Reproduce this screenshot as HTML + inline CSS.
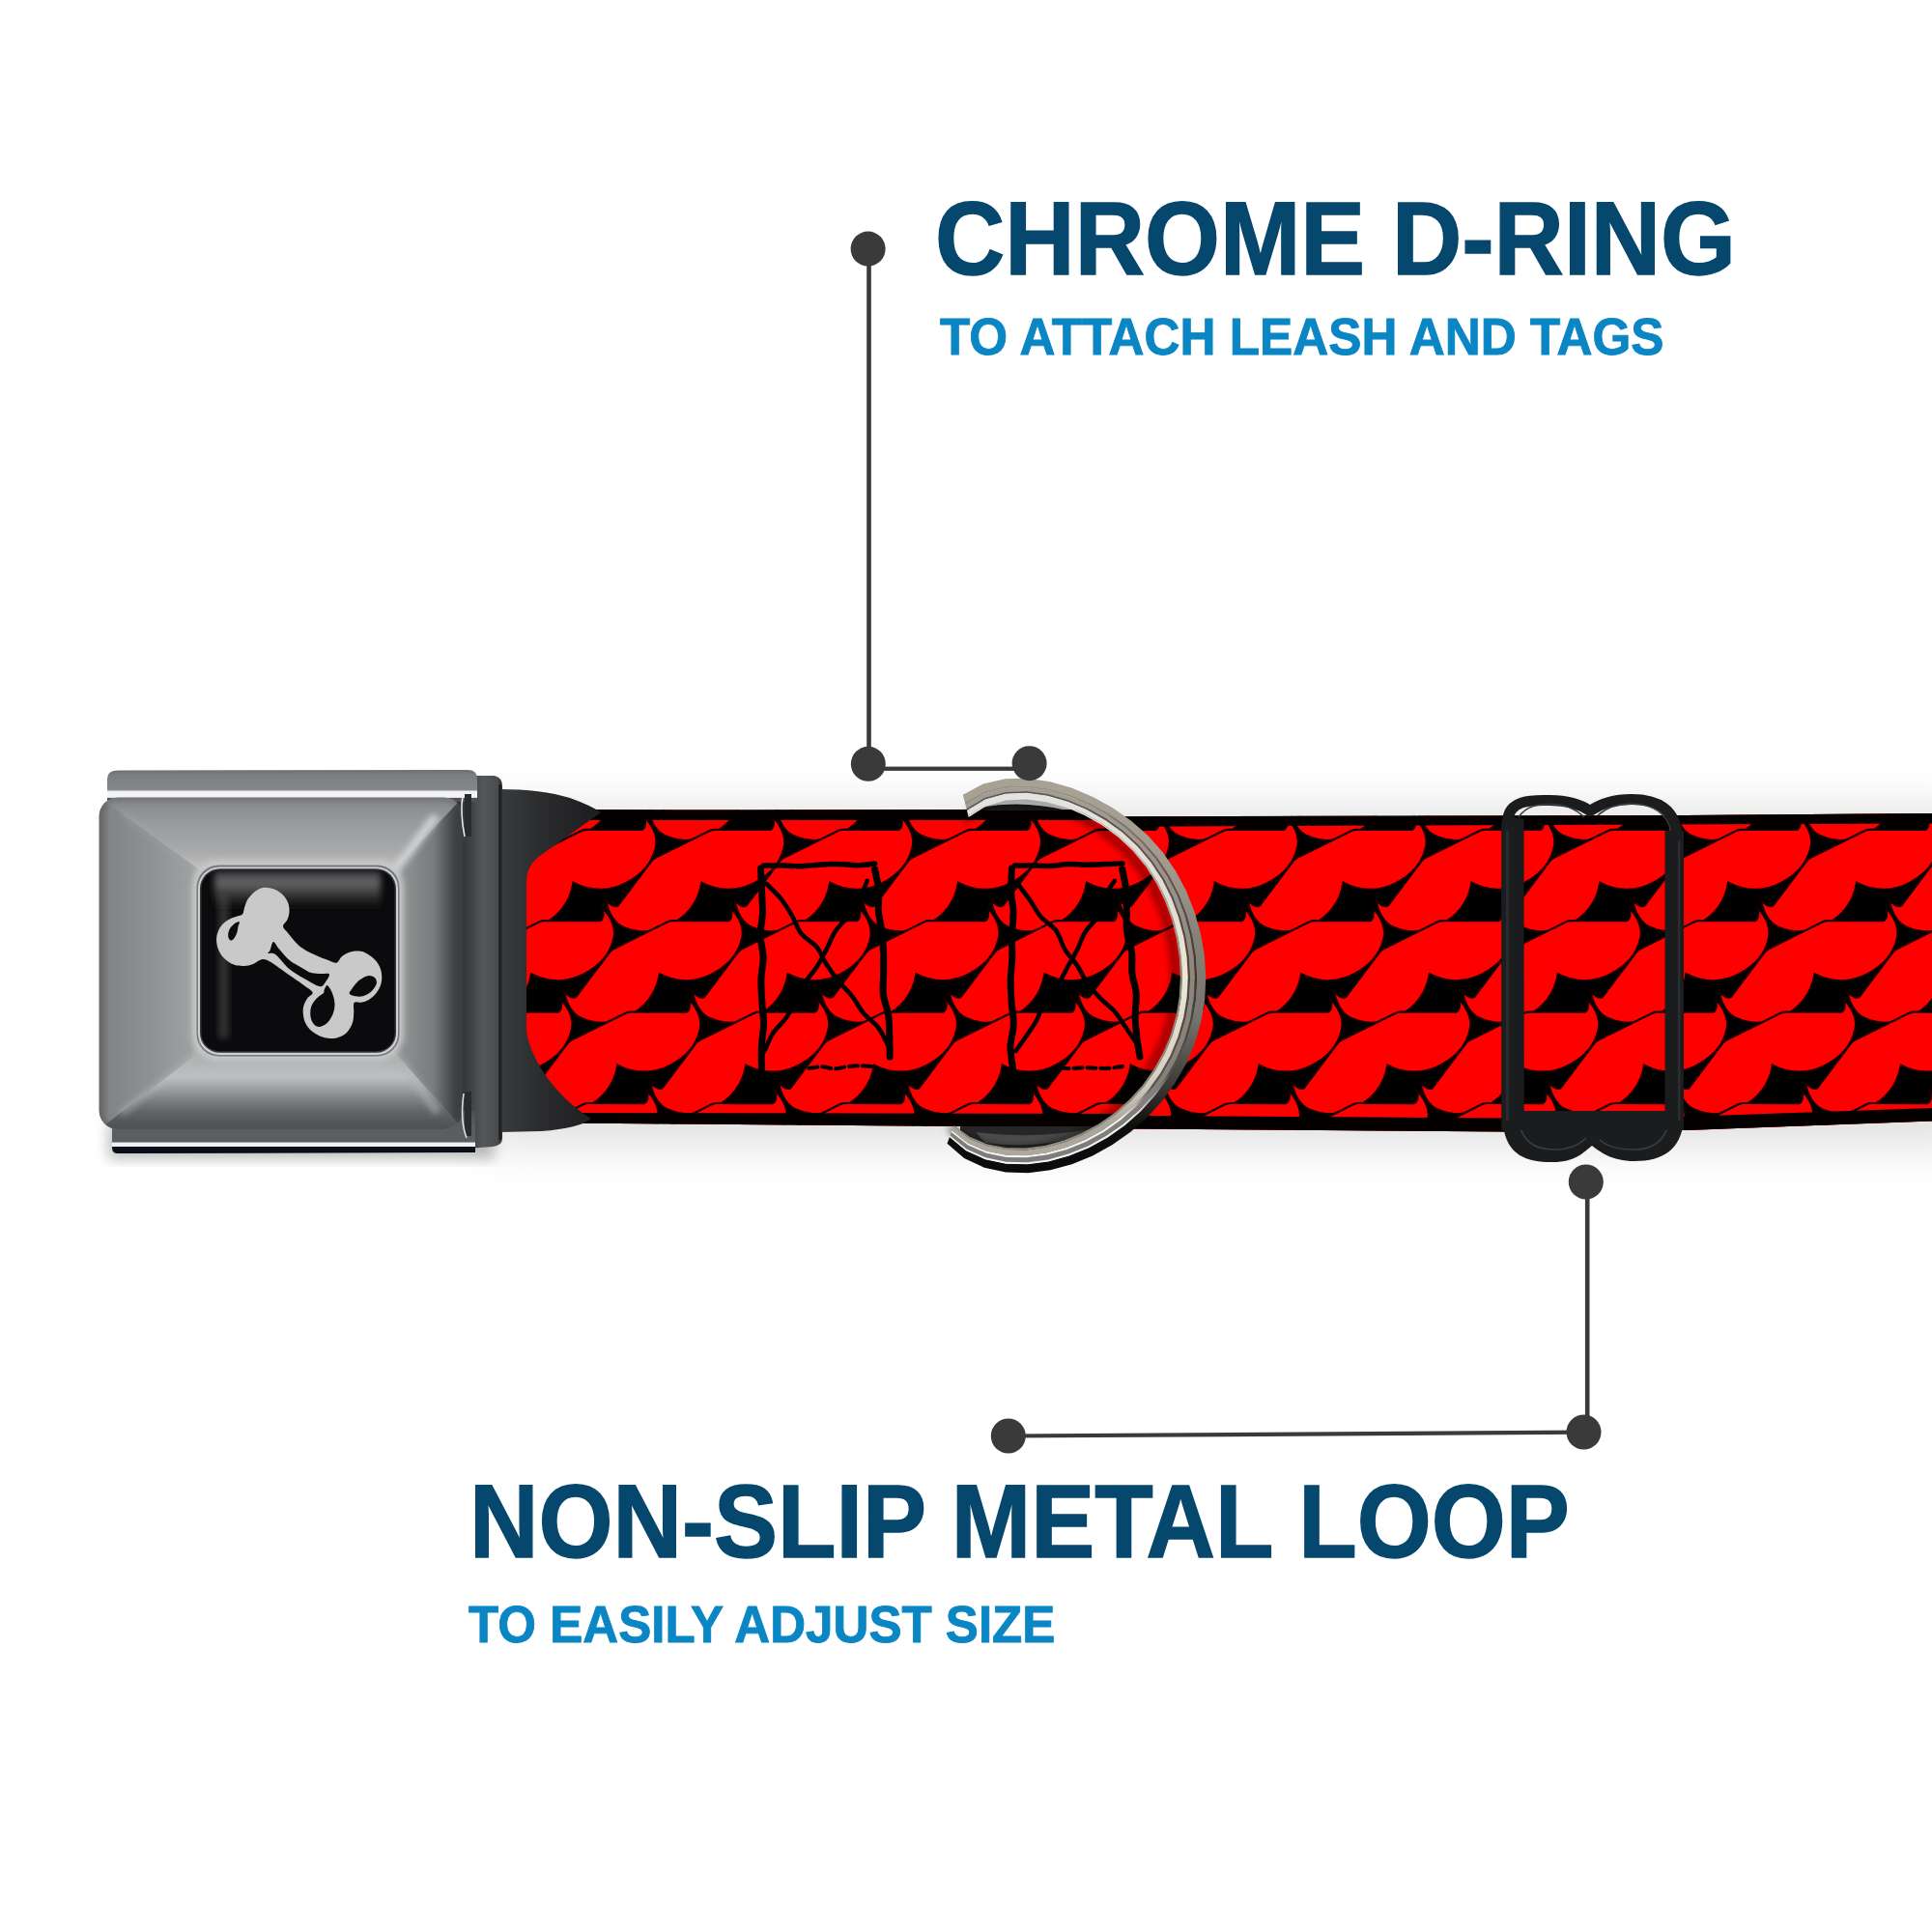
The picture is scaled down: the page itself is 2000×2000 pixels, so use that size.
<!DOCTYPE html>
<html><head><meta charset="utf-8"><title>Dog collar features</title>
<style>
html,body{margin:0;padding:0;background:#fff;}
body{width:2000px;height:2000px;overflow:hidden;position:relative;font-family:"Liberation Sans",sans-serif;}
svg{position:absolute;left:0;top:0;}
.t{position:absolute;white-space:nowrap;font-weight:bold;line-height:1;transform-origin:0 0;}
.h{color:#06476e;-webkit-text-stroke:1.5px #06476e;}
.s{color:#0a86c4;-webkit-text-stroke:0.9px #0a86c4;}
</style></head><body>

<svg width="2000" height="2000" viewBox="0 0 2000 2000">
<defs>
<path id="m" d="M0,-44.5 L31,-44.5 Q34,-44.5 37,-43 L88,-17.5 Q93.5,-17 96.5,-28 C101,-14 99,-1 92,6 C84,16 70,24 49,24.5 C30,25 12,17 0,0 C-12,17 -30,25 -49,24.5 C-70,24 -84,16 -92,6 C-99,-1 -101,-14 -96.5,-28 Q-93.5,-17 -88,-17.5 L-37,-43 Q-34,-44.5 -31,-44.5 Z" transform="rotate(-26.5)"/>

<filter id="blur20" x="-10%" y="-60%" width="120%" height="220%"><feGaussianBlur stdDeviation="24"/></filter>
<filter id="blur8" x="-20%" y="-20%" width="140%" height="140%"><feGaussianBlur stdDeviation="7"/></filter>
<filter id="blur3" x="-20%" y="-20%" width="140%" height="140%"><feGaussianBlur stdDeviation="3"/></filter>
<filter id="blur1"><feGaussianBlur stdDeviation="1.2"/></filter>
<clipPath id="cL"><path d="M540,900 L540,860 L600,838 L700,838.5 L1000,838 L1260,838 L1260,1167 L1000,1166 L640,1163 L560,1163 L540,1130 Z"/></clipPath>
<clipPath id="cR"><path d="M1100,845.5 L1745,844 L2000,842 L2000,1160.5 L1745,1170 L1560,1171.5 L1100,1168 Z"/></clipPath>

</defs>
<rect x="500" y="836" width="1540" height="350" fill="#000" opacity="0.12" filter="url(#blur20)"/>
<clipPath id="cD"><path d="M500,1230 L984.0,1174.3 C987.9,1177.1 998.7,1187.0 1007.0,1191.2 C1015.3,1195.4 1024.7,1198.1 1033.9,1199.8 C1043.1,1201.5 1052.8,1201.9 1062.2,1201.4 C1071.7,1201.0 1081.3,1199.5 1090.5,1197.3 C1099.7,1195.1 1108.9,1192.0 1117.6,1188.3 C1126.4,1184.6 1134.9,1180.2 1143.0,1175.2 C1151.1,1170.3 1158.9,1164.7 1166.2,1158.6 C1173.5,1152.5 1180.4,1145.9 1186.7,1138.8 C1193.0,1131.8 1198.9,1124.2 1204.1,1116.3 C1209.3,1108.3 1214.0,1099.9 1218.0,1091.3 C1221.9,1082.7 1225.3,1073.7 1227.9,1064.6 C1230.5,1055.5 1232.4,1046.1 1233.6,1036.7 C1234.8,1027.3 1235.2,1017.7 1235.0,1008.2 C1234.8,998.7 1233.9,989.2 1232.4,979.8 C1230.9,970.5 1228.8,961.1 1226.0,952.0 C1223.3,942.9 1220.0,933.8 1216.0,925.2 C1212.0,916.5 1207.4,907.9 1202.1,899.9 C1196.8,891.8 1190.8,884.1 1184.3,876.9 C1177.8,869.8 1170.5,863.1 1163.0,857.1 C1155.4,851.1 1147.2,845.6 1138.8,840.7 C1130.3,835.8 1121.4,831.5 1112.4,827.9 C1103.3,824.4 1093.8,821.3 1084.2,819.4 C1074.6,817.4 1064.7,816.1 1055.0,816.3 C1045.2,816.5 1035.1,817.6 1025.9,820.6 C1016.8,823.6 1004.2,832.1 999.8,834.4 L500,790Z"/></clipPath><g clip-path="url(#cR)"><rect x="1100" y="830" width="900" height="350" fill="#000"/><g fill="#fe0000" stroke="#140000" stroke-width="2.2"><use href="#m" x="1035.5" y="819.4"/><use href="#m" x="1168.4" y="819.4"/><use href="#m" x="1301.2" y="819.4"/><use href="#m" x="1434.1" y="819.4"/><use href="#m" x="1566.9" y="819.4"/><use href="#m" x="1699.8" y="819.4"/><use href="#m" x="1832.6" y="819.4"/><use href="#m" x="1965.5" y="819.4"/><use href="#m" x="2098.3" y="819.4"/><use href="#m" x="1124.9" y="913.8"/><use href="#m" x="1257.8" y="913.8"/><use href="#m" x="1390.6" y="913.8"/><use href="#m" x="1523.4" y="913.8"/><use href="#m" x="1656.3" y="913.8"/><use href="#m" x="1789.1" y="913.8"/><use href="#m" x="1922.0" y="913.8"/><use href="#m" x="2054.8" y="913.8"/><use href="#m" x="1081.4" y="1008.2"/><use href="#m" x="1214.2" y="1008.2"/><use href="#m" x="1347.1" y="1008.2"/><use href="#m" x="1479.9" y="1008.2"/><use href="#m" x="1612.8" y="1008.2"/><use href="#m" x="1745.6" y="1008.2"/><use href="#m" x="1878.5" y="1008.2"/><use href="#m" x="2011.3" y="1008.2"/><use href="#m" x="1037.9" y="1102.6"/><use href="#m" x="1170.8" y="1102.6"/><use href="#m" x="1303.6" y="1102.6"/><use href="#m" x="1436.4" y="1102.6"/><use href="#m" x="1569.3" y="1102.6"/><use href="#m" x="1702.1" y="1102.6"/><use href="#m" x="1835.0" y="1102.6"/><use href="#m" x="1967.8" y="1102.6"/><use href="#m" x="2100.7" y="1102.6"/><use href="#m" x="1127.2" y="1197.0"/><use href="#m" x="1260.1" y="1197.0"/><use href="#m" x="1392.9" y="1197.0"/><use href="#m" x="1525.8" y="1197.0"/><use href="#m" x="1658.6" y="1197.0"/><use href="#m" x="1791.5" y="1197.0"/><use href="#m" x="1924.3" y="1197.0"/><use href="#m" x="2057.2" y="1197.0"/></g><path d="M1100,845 L2000,841 L2000,852.5 L1100,856Z" fill="#050000"/><path d="M1100,1169 L1560,1172 L1745,1170.5 L2000,1161 L2000,1147 L1745,1156 L1560,1157.5 L1100,1154.5Z" fill="#050000"/></g><g clip-path="url(#cD)"><g clip-path="url(#cL)"><rect x="530" y="830" width="720" height="350" fill="#000"/><g fill="#fe0000" stroke="#140000" stroke-width="2.2"><use href="#m" x="504.1" y="819.4"/><use href="#m" x="637.0" y="819.4"/><use href="#m" x="769.8" y="819.4"/><use href="#m" x="902.7" y="819.4"/><use href="#m" x="1035.5" y="819.4"/><use href="#m" x="1168.4" y="819.4"/><use href="#m" x="1301.2" y="819.4"/><use href="#m" x="460.6" y="913.8"/><use href="#m" x="593.5" y="913.8"/><use href="#m" x="726.3" y="913.8"/><use href="#m" x="859.2" y="913.8"/><use href="#m" x="992.0" y="913.8"/><use href="#m" x="1124.9" y="913.8"/><use href="#m" x="1257.8" y="913.8"/><use href="#m" x="550.0" y="1008.2"/><use href="#m" x="682.8" y="1008.2"/><use href="#m" x="815.7" y="1008.2"/><use href="#m" x="948.5" y="1008.2"/><use href="#m" x="1081.4" y="1008.2"/><use href="#m" x="1214.2" y="1008.2"/><use href="#m" x="1347.1" y="1008.2"/><use href="#m" x="506.5" y="1102.6"/><use href="#m" x="639.3" y="1102.6"/><use href="#m" x="772.2" y="1102.6"/><use href="#m" x="905.0" y="1102.6"/><use href="#m" x="1037.9" y="1102.6"/><use href="#m" x="1170.8" y="1102.6"/><use href="#m" x="1303.6" y="1102.6"/><use href="#m" x="463.0" y="1197.0"/><use href="#m" x="595.8" y="1197.0"/><use href="#m" x="728.7" y="1197.0"/><use href="#m" x="861.5" y="1197.0"/><use href="#m" x="994.4" y="1197.0"/><use href="#m" x="1127.2" y="1197.0"/><use href="#m" x="1260.1" y="1197.0"/></g><path d="M540,838 L1260,838 L1260,849 L540,849Z" fill="#050000"/><path d="M540,1167 L1260,1167 L1260,1153 L540,1152Z" fill="#050000"/><g fill="none" stroke="#000" stroke-linecap="round"><path d="M787.5,899.0 C787.7,902.8 788.2,914.3 788.5,922.0 C788.8,929.7 789.7,937.3 789.5,945.0 C789.2,952.7 787.0,960.3 787.1,968.0 C787.2,975.7 789.9,983.3 790.1,991.0 C790.2,998.7 788.1,1006.3 787.9,1014.0 C787.7,1021.7 788.4,1029.3 788.8,1037.0 C789.3,1044.7 790.6,1052.3 790.5,1060.0 C790.4,1067.7 788.7,1075.3 788.4,1083.0 C788.0,1090.7 788.5,1102.2 788.5,1106.0" stroke-width="7"/><path d="M905.6,900.0 C906.3,903.6 909.0,914.2 909.6,921.4 C910.3,928.6 908.8,935.9 909.4,943.1 C909.9,950.3 912.1,957.3 912.9,964.5 C913.8,971.7 914.3,978.8 914.6,986.1 C914.9,993.3 914.7,1000.5 914.6,1007.7 C914.6,1015.0 913.5,1022.3 914.4,1029.5 C915.2,1036.6 918.5,1043.6 919.6,1050.7 C920.7,1057.9 920.6,1065.1 920.8,1072.3 C921.1,1079.5 921.1,1090.4 921.2,1094.0" stroke-width="7"/><path d="M790.5,896.0 C793.7,896.0 803.3,895.9 809.7,896.0 C816.1,896.2 822.5,896.8 828.9,896.7 C835.3,896.5 841.7,895.6 848.1,895.2 C854.4,894.8 860.8,894.3 867.2,894.4 C873.6,894.4 880.0,895.8 886.4,895.8 C892.8,895.7 902.4,894.3 905.6,894.0" stroke-width="5.5" stroke-dasharray="14 3"/><path d="M837.5,1106.0 C839.7,1105.7 846.2,1104.2 850.6,1104.2 C855.0,1104.3 859.4,1106.3 863.8,1106.3 C868.2,1106.3 872.5,1104.7 876.9,1104.2 C881.3,1103.7 885.6,1103.4 890.0,1103.3 C894.4,1103.3 901.0,1103.9 903.2,1104.0" stroke-width="4" stroke-dasharray="9 5"/><path d="M793.5,915.0 C796.0,917.5 803.8,924.7 808.2,930.1 C812.6,935.5 816.2,941.5 819.7,947.6 C823.3,953.7 825.1,961.0 829.4,966.4 C833.8,971.9 841.2,975.1 845.6,980.5 C850.0,985.9 852.1,993.0 855.9,998.8 C859.7,1004.7 863.8,1010.4 868.1,1015.8 C872.5,1021.2 877.9,1025.9 882.2,1031.4 C886.5,1036.9 889.3,1043.5 893.8,1048.8 C898.3,1054.2 904.8,1057.9 909.1,1063.5 C913.3,1069.0 917.5,1078.9 919.2,1082.0" stroke-width="4.6"/><path d="M897.6,912.0 C896.3,915.2 892.9,925.1 889.6,931.2 C886.4,937.2 882.3,942.8 878.1,948.3 C874.0,953.8 868.4,958.4 864.7,964.1 C860.9,969.9 858.8,976.6 855.6,982.7 C852.4,988.7 849.4,994.9 845.7,1000.7 C842.0,1006.4 837.1,1011.5 833.4,1017.3 C829.8,1023.1 826.9,1029.3 823.6,1035.4 C820.4,1041.4 817.8,1047.9 813.9,1053.5 C810.0,1059.2 804.1,1063.6 800.3,1069.3 C796.6,1075.1 793.0,1084.9 791.5,1088.0" stroke-width="4.6"/><path d="M1047.5,899.0 C1047.4,902.8 1046.4,914.3 1046.6,922.0 C1046.9,929.7 1048.9,937.3 1049.0,945.0 C1049.1,952.7 1047.7,960.3 1047.5,968.0 C1047.3,975.7 1048.0,983.3 1047.8,991.0 C1047.6,998.7 1046.3,1006.3 1046.2,1014.0 C1046.0,1021.7 1046.5,1029.3 1047.0,1037.0 C1047.5,1044.7 1049.5,1052.3 1049.3,1060.0 C1049.2,1067.7 1046.1,1075.3 1046.0,1083.0 C1045.8,1090.7 1048.1,1102.2 1048.5,1106.0" stroke-width="7"/><path d="M1161.8,900.0 C1162.5,903.6 1165.0,914.2 1165.7,921.4 C1166.5,928.6 1166.1,935.8 1166.3,943.1 C1166.4,950.3 1165.7,957.6 1166.6,964.8 C1167.5,972.0 1170.7,978.9 1171.6,986.1 C1172.5,993.2 1171.2,1000.6 1172.0,1007.8 C1172.7,1014.9 1175.7,1021.9 1176.2,1029.1 C1176.8,1036.3 1175.0,1043.7 1175.1,1051.0 C1175.2,1058.2 1175.8,1065.4 1176.7,1072.6 C1177.5,1079.7 1179.4,1090.4 1180.0,1094.0" stroke-width="7"/><path d="M1050.5,896.0 C1053.6,896.0 1062.9,895.8 1069.1,895.9 C1075.2,896.0 1081.4,896.7 1087.6,896.5 C1093.8,896.2 1100.0,894.6 1106.1,894.4 C1112.3,894.2 1118.5,895.2 1124.7,895.3 C1130.9,895.3 1137.1,894.8 1143.3,894.6 C1149.4,894.4 1158.7,894.1 1161.8,894.0" stroke-width="5.5" stroke-dasharray="14 3"/><path d="M1097.5,1106.0 C1099.7,1106.0 1106.1,1106.0 1110.4,1105.8 C1114.7,1105.7 1119.0,1105.1 1123.3,1105.1 C1127.6,1105.1 1131.9,1105.7 1136.2,1105.8 C1140.5,1105.9 1144.8,1106.0 1149.1,1105.7 C1153.4,1105.4 1159.9,1104.3 1162.0,1104.0" stroke-width="4" stroke-dasharray="9 5"/><path d="M1053.5,915.0 C1055.6,917.8 1062.1,925.9 1066.1,931.6 C1070.1,937.3 1072.9,943.8 1077.5,949.1 C1082.0,954.4 1089.2,957.7 1093.3,963.3 C1097.4,968.9 1098.6,976.7 1102.2,982.6 C1105.8,988.6 1111.0,993.3 1114.9,999.1 C1118.8,1004.9 1121.4,1011.6 1125.4,1017.3 C1129.4,1023.0 1134.0,1028.2 1138.8,1033.2 C1143.7,1038.3 1149.8,1042.4 1154.3,1047.7 C1158.9,1053.0 1162.2,1059.1 1166.2,1064.8 C1170.1,1070.5 1176.0,1079.1 1178.0,1082.0" stroke-width="4.6"/><path d="M1153.8,912.0 C1151.9,914.8 1145.5,922.9 1142.5,929.0 C1139.6,935.2 1139.4,942.9 1136.2,948.9 C1133.0,954.9 1126.9,959.2 1123.3,964.9 C1119.8,970.7 1118.0,977.5 1114.9,983.6 C1111.8,989.6 1108.3,995.4 1105.0,1001.3 C1101.7,1007.3 1099.2,1013.7 1095.1,1019.2 C1091.0,1024.6 1084.0,1028.4 1080.6,1034.3 C1077.1,1040.1 1077.1,1047.9 1074.2,1054.1 C1071.3,1060.3 1067.0,1065.6 1063.3,1071.3 C1059.5,1076.9 1053.5,1085.2 1051.5,1088.0" stroke-width="4.6"/></g></g></g><g clip-path="url(#cD)"><path d="M1003,839 Q1050,826 1105,839Z" fill="#1a1a1a"/><path d="M994,1166 L1150,1166 L1150,1200 L994,1200Z" fill="#262626"/><path d="M1010,1172 Q1070,1180 1135,1168 L1120,1176 Q1070,1190 1020,1183Z" fill="#4a4a4a"/></g>
<defs><linearGradient id="bk_back" x1="0" y1="0" x2="0" y2="1"><stop offset="0" stop-color="#6c6f72"/><stop offset="0.15" stop-color="#7b7e80"/><stop offset="0.62" stop-color="#85888a"/><stop offset="0.68" stop-color="#f2f2f2"/><stop offset="0.86" stop-color="#f4f4f4"/><stop offset="0.89" stop-color="#4f5254"/><stop offset="1" stop-color="#4f5254"/></linearGradient><linearGradient id="bk_top" x1="0" y1="0" x2="0" y2="1"><stop offset="0" stop-color="#838587"/><stop offset="0.3" stop-color="#97999a"/><stop offset="0.7" stop-color="#a9aaab"/><stop offset="0.9" stop-color="#c2c2c1"/><stop offset="1" stop-color="#d2d2d0"/></linearGradient><linearGradient id="bk_left" x1="0" y1="0" x2="1" y2="0"><stop offset="0" stop-color="#6a6c6e"/><stop offset="0.1" stop-color="#828485"/><stop offset="0.5" stop-color="#8f9192"/><stop offset="0.85" stop-color="#9fa0a1"/><stop offset="0.95" stop-color="#b8b8b8"/><stop offset="1" stop-color="#c8c8c8"/></linearGradient><linearGradient id="bk_right" x1="0" y1="0" x2="1" y2="0"><stop offset="0" stop-color="#959697"/><stop offset="0.3" stop-color="#8a8b8c"/><stop offset="0.6" stop-color="#7a7b7c"/><stop offset="0.75" stop-color="#5c5e60"/><stop offset="0.9" stop-color="#3f4143"/><stop offset="1" stop-color="#303234"/></linearGradient><linearGradient id="bk_bot" x1="0" y1="0" x2="0" y2="1"><stop offset="0" stop-color="#a5a7a8"/><stop offset="0.37" stop-color="#bec0c1"/><stop offset="0.5" stop-color="#a0a2a4"/><stop offset="0.65" stop-color="#7c7f81"/><stop offset="0.8" stop-color="#606366"/><stop offset="1" stop-color="#4d5053"/></linearGradient><linearGradient id="bk_base" x1="0" y1="0" x2="0" y2="1"><stop offset="0" stop-color="#4d5053"/><stop offset="0.42" stop-color="#5b5e61"/><stop offset="0.73" stop-color="#5b5e61"/><stop offset="0.75" stop-color="#f2f2f2"/><stop offset="0.83" stop-color="#f2f2f2"/><stop offset="0.85" stop-color="#0d1424"/><stop offset="1" stop-color="#06080c"/></linearGradient><linearGradient id="bk_side" x1="0" y1="0" x2="1" y2="0"><stop offset="0" stop-color="#2b2d30"/><stop offset="0.3" stop-color="#3b3d40"/><stop offset="0.6" stop-color="#55585b"/><stop offset="0.9" stop-color="#4a4c4f"/><stop offset="1" stop-color="#2a2b2d"/></linearGradient><linearGradient id="bk_tongue" x1="0" y1="0" x2="1" y2="0"><stop offset="0" stop-color="#3a3b3d"/><stop offset="0.4" stop-color="#2b2c2e"/><stop offset="1" stop-color="#1c1c1e"/></linearGradient><linearGradient id="bk_gloss" x1="0" y1="0" x2="0" y2="1"><stop offset="0" stop-color="#2a2c32"/><stop offset="0.15" stop-color="#4a4a4e"/><stop offset="0.3" stop-color="#646464"/><stop offset="0.5" stop-color="#4c4c4c"/><stop offset="0.75" stop-color="#232325"/><stop offset="1" stop-color="#0b0b0d"/></linearGradient><clipPath id="bk_sq"><rect x="208.5" y="900.8" width="200" height="187.5" rx="19"/></clipPath></defs><rect x="112" y="1160" width="400" height="40" fill="#000" opacity="0.25" filter="url(#blur8)"/><path d="M518,817 Q560,817 590,826 Q612,834 622,841 L556,888 Q545,898 545,912 L545,1068 Q548,1086 560,1106 Q580,1138 612,1158 Q600,1168 560,1171 L518,1172 Z" fill="url(#bk_tongue)"/><path d="M470,803 L512,803 Q520,805 520,814 L520,1178 Q520,1186 510,1187 L470,1190 Z" fill="url(#bk_side)"/><rect x="516.5" y="812" width="2" height="368" fill="#17181a"/><path d="M111,806 Q111,797.5 122,797.5 L484,797 Q494,797 494,806 L494,830 L111,830 Z" fill="url(#bk_back)"/><path d="M116,1150 L492,1150 L492,1193 L122,1194 Q116,1194 116,1188 Z" fill="url(#bk_base)"/><clipPath id="bk_cov"><rect x="102.5" y="825.5" width="376.5" height="343.5" rx="20"/></clipPath><g clip-path="url(#bk_cov)"><rect x="102.5" y="825.5" width="376.5" height="343.5" fill="#8f9193"/><path d="M102.5,825.5 L479,825.5 L403,906 L214,906Z" fill="url(#bk_top)"/><path d="M214,1083 L403,1083 L479,1169 L102.5,1169Z" fill="url(#bk_bot)"/><path d="M102.5,825.5 L214,906 L214,1083 L102.5,1169Z" fill="url(#bk_left)"/><path d="M403,906 L479,825.5 L479,1169 L403,1083Z" fill="url(#bk_right)"/><g filter="url(#blur3)" fill="none" stroke-linecap="round"><path d="M127.5,843.5 L214,906" stroke="#b4b6b7" stroke-width="7" opacity="0.2"/><path d="M449,847.5 L407,904" stroke="#cfd0d1" stroke-width="9"/><path d="M127.5,1151 L214,1083" stroke="#b9bbbc" stroke-width="7" opacity="0.5"/><path d="M451,1149 L405,1085" stroke="#b2b4b5" stroke-width="8" opacity="0.6"/></g><rect x="102.5" y="825.5" width="376.5" height="343.5" rx="20" fill="none" stroke="#55585b" stroke-width="5" opacity="0.55" filter="url(#blur3)"/></g><rect x="199" y="891" width="219" height="207" rx="27" fill="#c6c7c7" filter="url(#blur3)"/><rect x="203.5" y="895.5" width="210" height="198" rx="23" fill="#77797c"/><rect x="205" y="897.5" width="207" height="194.5" rx="22" fill="#d0d1d1"/><rect x="207" y="899.3" width="203" height="190.5" rx="20.5" fill="#34363c"/><rect x="208.5" y="900.8" width="200" height="187.5" rx="19" fill="#0b0b0d"/><g clip-path="url(#bk_sq)"><rect x="222" y="901" width="172" height="39" fill="url(#bk_gloss)" filter="url(#blur3)"/><rect x="226" y="925" width="11" height="150" fill="#4a4a4a" opacity="0.6" filter="url(#blur3)"/></g><path d="M275.6,918.8 C278.1,919.1 282.6,919.7 285.7,921.2 C288.7,922.6 291.6,924.9 293.7,927.2 C295.9,929.6 297.5,932.5 298.4,935.3 C299.4,938.1 299.6,941.2 299.5,944.0 C299.3,946.8 298.5,949.6 297.4,952.1 C296.4,954.6 293.0,956.6 293.1,958.8 C293.1,961.1 294.9,962.1 297.8,965.6 C300.6,969.0 305.5,975.7 310.1,979.5 C314.7,983.3 320.5,985.8 325.6,988.3 C330.6,990.7 336.6,992.9 340.4,994.3 C344.2,995.7 346.2,997.3 348.5,996.7 C350.7,996.0 351.8,992.0 353.8,990.3 C355.9,988.5 358.0,987.2 360.6,986.2 C363.1,985.3 366.4,984.6 369.3,984.6 C372.2,984.6 375.1,985.0 378.1,986.2 C381.0,987.5 384.3,989.9 386.8,992.3 C389.3,994.7 391.5,997.5 392.9,1000.4 C394.3,1003.3 395.0,1006.7 395.2,1009.8 C395.4,1012.9 395.2,1016.2 394.2,1019.2 C393.3,1022.2 391.5,1025.4 389.5,1028.0 C387.5,1030.5 384.7,1033.1 382.1,1034.7 C379.5,1036.3 376.6,1037.2 374.0,1037.7 C371.4,1038.3 367.9,1036.4 366.6,1038.1 C365.3,1039.7 366.5,1044.2 366.3,1047.5 C366.1,1050.7 366.0,1054.7 365.3,1057.6 C364.5,1060.5 363.4,1062.7 361.9,1065.0 C360.5,1067.2 358.8,1069.5 356.5,1071.0 C354.3,1072.6 351.3,1073.8 348.5,1074.4 C345.6,1075.0 342.6,1075.1 339.7,1074.7 C336.8,1074.4 333.9,1073.7 331.0,1072.4 C328.0,1071.1 324.7,1069.2 322.2,1067.0 C319.7,1064.8 317.6,1061.8 316.2,1058.9 C314.7,1056.0 314.1,1052.5 313.8,1049.5 C313.5,1046.5 313.7,1043.4 314.5,1040.8 C315.2,1038.1 316.7,1035.6 318.2,1033.4 C319.7,1031.1 324.3,1029.7 323.6,1027.3 C322.8,1024.9 317.4,1022.1 313.5,1019.2 C309.5,1016.3 304.1,1012.7 300.0,1009.8 C295.9,1006.9 292.5,1004.3 289.0,1001.9 C285.5,999.5 282.0,996.6 278.9,995.2 C275.9,993.7 273.7,992.7 270.9,993.2 C268.1,993.6 265.1,996.7 262.1,997.9 C259.1,999.0 256.0,999.8 252.7,999.9 C249.3,1000.0 245.3,999.8 241.9,998.5 C238.6,997.3 235.1,995.0 232.5,992.5 C229.9,990.0 227.8,986.9 226.4,983.7 C225.0,980.6 224.2,976.9 224.1,973.6 C224.0,970.4 224.6,967.1 225.8,964.2 C226.9,961.3 228.9,958.4 231.2,956.1 C233.4,953.9 236.5,952.1 239.2,950.8 C241.9,949.4 245.3,948.9 247.3,948.1 C249.3,947.3 250.3,947.6 251.3,946.0 C252.3,944.5 252.5,941.2 253.4,938.6 C254.3,936.1 255.0,933.2 256.7,930.6 C258.4,928.0 261.2,925.0 263.5,923.2 C265.7,921.3 268.2,920.2 270.2,919.5 C272.2,918.7 273.0,918.5 275.6,918.8Z" fill="#c9c9c9"/><path d="M283.0,975.0 C284.5,974.8 286.2,979.2 289.0,982.4 C291.9,985.6 296.2,991.1 300.0,994.3 C303.8,997.5 308.4,999.6 312.1,1001.7 C315.8,1003.9 318.8,1006.0 322.2,1007.1 C325.6,1008.2 329.2,1007.9 332.3,1008.1 C335.4,1008.3 340.5,1006.7 341.0,1008.5 C341.6,1010.2 337.0,1016.5 335.7,1018.5 C334.3,1020.6 334.1,1020.6 333.0,1020.9 C331.9,1021.2 331.1,1021.4 328.9,1020.6 C326.8,1019.7 325.0,1018.7 320.2,1015.9 C315.4,1013.0 305.8,1008.0 300.0,1003.4 C294.2,998.8 289.4,991.2 285.7,988.4 C281.9,985.7 278.6,987.5 277.6,986.8 C276.6,986.0 278.7,985.7 279.6,983.7 C280.5,981.8 281.4,975.2 283.0,975.0Z M248.0,954.5 C248.3,955.1 247.1,957.0 246.6,958.8 C246.2,960.7 246.0,963.5 245.3,965.6 C244.6,967.6 243.6,969.6 242.6,970.9 C241.6,972.3 240.2,973.5 239.2,973.6 C238.3,973.8 237.4,972.7 236.9,971.6 C236.4,970.5 236.0,968.6 236.2,966.9 C236.4,965.2 237.0,963.1 237.9,961.5 C238.7,960.0 240.1,958.6 241.2,957.5 C242.4,956.4 243.5,955.6 244.6,955.1 C245.7,954.6 247.6,953.8 248.0,954.5Z M361.9,1029.0 C360.8,1027.6 363.4,1025.2 364.6,1023.3 C365.8,1021.3 367.5,1019.0 369.3,1017.2 C371.1,1015.4 373.2,1013.7 375.4,1012.5 C377.5,1011.3 380.1,1010.2 382.1,1010.1 C384.1,1010.0 386.2,1010.9 387.5,1011.8 C388.8,1012.8 389.6,1014.4 389.8,1015.9 C390.1,1017.3 389.7,1018.9 388.8,1020.6 C388.0,1022.2 386.5,1024.4 384.8,1025.9 C383.1,1027.5 381.0,1029.0 378.7,1030.0 C376.5,1030.9 374.1,1031.8 371.3,1031.7 C368.5,1031.5 363.0,1030.4 361.9,1029.0Z M338.7,1019.9 C339.9,1020.1 341.9,1023.6 343.1,1025.9 C344.2,1028.3 345.2,1031.3 345.8,1034.0 C346.3,1036.7 346.7,1039.4 346.4,1042.1 C346.2,1044.8 345.4,1047.7 344.4,1050.2 C343.4,1052.6 341.9,1055.0 340.4,1056.9 C338.8,1058.8 336.7,1060.6 335.0,1061.6 C333.3,1062.6 331.9,1063.1 330.3,1063.0 C328.7,1062.8 326.9,1062.2 325.6,1060.9 C324.2,1059.7 322.9,1057.6 322.2,1055.6 C321.5,1053.5 321.2,1051.1 321.2,1048.8 C321.2,1046.6 321.5,1044.2 322.2,1042.1 C322.9,1040.0 324.2,1037.8 325.6,1036.0 C326.9,1034.2 328.7,1032.7 330.3,1031.3 C331.9,1030.0 334.1,1029.1 335.0,1028.0 C335.9,1026.8 335.0,1025.9 335.7,1024.6 C336.3,1023.3 337.5,1019.7 338.7,1019.9Z" fill="#0b0b0d"/><path d="M481,822 L488,822 L488,866 L481,866 Z" fill="#2a2b2d"/><path d="M479,824 Q476,840 481,866" fill="none" stroke="#e8e8e8" stroke-width="1.6"/><path d="M481,1130 L488,1130 L488,1176 L481,1176 Z" fill="#2a2b2d"/><path d="M480,1132 Q476,1160 483,1178" fill="none" stroke="#dcdcdc" stroke-width="1.6"/>
<defs><linearGradient id="rA" gradientUnits="userSpaceOnUse" x1="0" y1="808" x2="0" y2="1214"><stop offset="0" stop-color="#a8a294"/><stop offset="0.22" stop-color="#a09a8e"/><stop offset="0.4" stop-color="#858279"/><stop offset="0.6" stop-color="#77756f"/><stop offset="0.78" stop-color="#3a3935"/><stop offset="0.88" stop-color="#0e0e0e"/><stop offset="1" stop-color="#0a0a0a"/></linearGradient><linearGradient id="rB" gradientUnits="userSpaceOnUse" x1="0" y1="808" x2="0" y2="1214"><stop offset="0" stop-color="#9c968a"/><stop offset="0.25" stop-color="#5a5650"/><stop offset="0.5" stop-color="#3a3634"/><stop offset="0.75" stop-color="#555"/><stop offset="0.86" stop-color="#f0f0f0"/><stop offset="1" stop-color="#f4f4f4"/></linearGradient><linearGradient id="rC" gradientUnits="userSpaceOnUse" x1="0" y1="808" x2="0" y2="1214"><stop offset="0" stop-color="#a49e92"/><stop offset="0.3" stop-color="#96918a"/><stop offset="0.5" stop-color="#8c887c"/><stop offset="0.8" stop-color="#82807a"/><stop offset="1" stop-color="#7c7c7c"/></linearGradient><linearGradient id="rD" gradientUnits="userSpaceOnUse" x1="0" y1="808" x2="0" y2="1214"><stop offset="0" stop-color="#5a5a58"/><stop offset="0.5" stop-color="#4a4540"/><stop offset="0.78" stop-color="#555"/><stop offset="0.86" stop-color="#f2f2f2"/><stop offset="1" stop-color="#f6f6f6"/></linearGradient><linearGradient id="rE" gradientUnits="userSpaceOnUse" x1="0" y1="808" x2="0" y2="1214"><stop offset="0" stop-color="#e4e4e2"/><stop offset="0.3" stop-color="#e0ddd0"/><stop offset="0.5" stop-color="#ece8d4"/><stop offset="0.75" stop-color="#d6d2c2"/><stop offset="0.88" stop-color="#aaa59a"/><stop offset="1" stop-color="#b0ab9e"/></linearGradient><linearGradient id="rF" gradientUnits="userSpaceOnUse" x1="0" y1="808" x2="0" y2="1214"><stop offset="0" stop-color="#f4f4f4"/><stop offset="0.3" stop-color="#a0a098"/><stop offset="0.5" stop-color="#8a8a80"/><stop offset="0.85" stop-color="#8c887e"/><stop offset="1" stop-color="#9a958a"/></linearGradient></defs><path d="M987.6,1165.0 C990.2,1167.0 997.9,1173.6 1003.7,1176.8 C1009.4,1180.1 1015.8,1182.6 1022.1,1184.4 C1028.5,1186.3 1035.1,1187.5 1041.8,1188.2 C1048.4,1188.9 1055.2,1188.9 1061.9,1188.6 C1068.6,1188.2 1075.3,1187.2 1081.9,1185.9 C1088.5,1184.6 1095.0,1182.8 1101.4,1180.6 C1107.7,1178.5 1114.0,1175.9 1120.1,1173.0 C1126.1,1170.1 1132.1,1166.9 1137.7,1163.3 C1143.4,1159.7 1148.9,1155.8 1154.2,1151.7 C1159.4,1147.5 1164.5,1143.0 1169.2,1138.3 C1174.0,1133.6 1178.5,1128.6 1182.7,1123.4 C1186.9,1118.2 1190.8,1112.7 1194.4,1107.0 C1198.0,1101.4 1201.3,1095.5 1204.2,1089.4 C1207.1,1083.4 1209.7,1077.2 1211.9,1070.9 C1214.1,1064.6 1216.0,1058.1 1217.5,1051.6 C1218.9,1045.0 1220.0,1038.4 1220.8,1031.7 C1221.5,1025.1 1221.9,1018.4 1221.9,1011.7 C1221.9,1005.0 1221.5,998.3 1220.9,991.6 C1220.2,984.9 1219.2,978.3 1217.9,971.7 C1216.6,965.1 1214.9,958.5 1213.0,952.1 C1211.0,945.6 1208.7,939.2 1206.1,932.9 C1203.5,926.6 1200.5,920.4 1197.2,914.4 C1193.9,908.5 1190.2,902.6 1186.1,897.0 C1182.1,891.4 1177.7,886.1 1172.9,881.0 C1168.2,876.0 1163.1,871.2 1157.7,866.7 C1152.4,862.3 1146.7,858.1 1140.9,854.3 C1135.0,850.5 1128.9,847.0 1122.6,843.9 C1116.4,840.8 1109.9,838.0 1103.2,835.6 C1096.6,833.3 1089.8,831.3 1082.9,829.9 C1076.1,828.5 1069.0,827.5 1062.0,827.2 C1055.0,827.0 1047.8,827.3 1041.0,828.5 C1034.1,829.7 1027.2,831.5 1020.8,834.4 C1014.4,837.4 1005.8,844.1 1002.8,846.0" fill="none" stroke="#000" stroke-opacity="0.35" stroke-width="10" transform="translate(-5,2)" filter="url(#blur3)"/><path d="M980.5,1183.7 L998.1,1199.0 L1018.9,1208.7 L1041.3,1213.6 L1064.3,1214.2 L1087.3,1211.3 L1109.6,1205.2 L1131.0,1196.4 L1151.2,1185.3 L1170.1,1172.1 L1187.5,1156.8 L1203.0,1139.8 L1216.6,1121.1 L1228.0,1101.0 L1237.0,1079.7 L1243.4,1057.5 L1247.2,1034.7 L1248.3,1011.6 L1246.8,988.6 L1242.8,965.9 L1236.5,943.7 L1228.0,922.2 L1217.1,901.7 L1203.9,882.6 L1188.4,865.1 L1171.0,849.7 L1151.8,836.3 L1131.4,825.0 L1109.8,815.8 L1087.2,809.2 L1064.0,805.7 L1040.5,806.2 L1017.7,811.5 L996.8,822.8 L999.0,831.2 L1018.8,819.8 L1040.7,814.2 L1063.3,813.5 L1085.7,816.7 L1107.4,823.0 L1128.2,831.8 L1147.9,842.8 L1166.2,855.8 L1182.8,870.9 L1197.5,887.8 L1209.9,906.3 L1220.1,926.0 L1228.0,946.7 L1233.8,968.0 L1237.5,989.7 L1238.8,1011.6 L1237.7,1033.6 L1234.1,1055.4 L1228.0,1076.5 L1219.5,1096.9 L1208.6,1116.1 L1195.7,1133.9 L1180.9,1150.2 L1164.4,1164.7 L1146.4,1177.4 L1127.1,1188.0 L1106.6,1196.3 L1085.3,1202.1 L1063.5,1205.0 L1041.5,1204.5 L1020.1,1200.0 L1000.1,1191.0 L983.1,1176.9 Z" fill="url(#rA)"/><path d="M983.0,1177.1 L1000.1,1191.2 L1020.0,1200.2 L1041.5,1204.7 L1063.5,1205.3 L1085.4,1202.4 L1106.7,1196.6 L1127.2,1188.2 L1146.5,1177.6 L1164.5,1164.9 L1181.1,1150.3 L1195.9,1134.1 L1208.9,1116.2 L1219.7,1097.0 L1228.2,1076.6 L1234.3,1055.4 L1237.9,1033.7 L1239.0,1011.6 L1237.7,989.7 L1234.1,967.9 L1228.3,946.6 L1220.3,925.9 L1210.1,906.2 L1197.7,887.6 L1183.0,870.7 L1166.3,855.6 L1148.0,842.6 L1128.3,831.6 L1107.5,822.8 L1085.7,816.5 L1063.3,813.3 L1040.7,814.0 L1018.7,819.5 L998.9,830.9 L999.4,833.0 L1019.0,821.6 L1040.7,816.0 L1063.1,815.2 L1085.3,818.3 L1106.9,824.6 L1127.5,833.3 L1147.0,844.2 L1165.1,857.2 L1181.6,872.1 L1196.1,888.9 L1208.3,907.3 L1218.3,926.9 L1226.2,947.4 L1231.8,968.4 L1235.4,989.9 L1236.7,1011.7 L1235.6,1033.4 L1232.0,1054.9 L1226.0,1075.8 L1217.6,1095.9 L1206.9,1114.9 L1194.1,1132.6 L1179.4,1148.7 L1163.1,1163.1 L1145.3,1175.6 L1126.2,1186.1 L1106.0,1194.4 L1084.9,1200.1 L1063.3,1202.9 L1041.5,1202.4 L1020.3,1198.1 L1000.6,1189.2 L983.6,1175.5 Z" fill="url(#rB)"/><path d="M983.6,1175.6 L1000.5,1189.5 L1020.3,1198.3 L1041.5,1202.7 L1063.3,1203.2 L1084.9,1200.4 L1106.1,1194.6 L1126.3,1186.4 L1145.4,1175.8 L1163.3,1163.3 L1179.6,1148.9 L1194.3,1132.7 L1207.1,1115.1 L1217.8,1096.0 L1226.2,1075.9 L1232.3,1054.9 L1235.8,1033.4 L1236.9,1011.7 L1235.6,989.9 L1232.1,968.4 L1226.4,947.3 L1218.6,926.8 L1208.5,907.2 L1196.2,888.8 L1181.7,872.0 L1165.3,857.0 L1147.1,844.0 L1127.6,833.1 L1107.0,824.4 L1085.4,818.1 L1063.1,815.0 L1040.7,815.8 L1019.0,821.4 L999.4,832.8 L1000.6,837.4 L1019.6,826.0 L1040.8,820.2 L1062.7,819.3 L1084.5,822.2 L1105.7,828.3 L1125.9,836.9 L1144.9,847.6 L1162.6,860.4 L1178.7,875.1 L1192.7,891.7 L1204.6,909.7 L1214.2,928.9 L1221.7,949.0 L1227.1,969.5 L1230.5,990.5 L1231.6,1011.7 L1230.5,1032.8 L1227.1,1053.8 L1221.2,1074.2 L1213.0,1093.7 L1202.6,1112.2 L1190.2,1129.4 L1176.0,1145.2 L1160.1,1159.2 L1142.7,1171.4 L1124.1,1181.7 L1104.4,1189.7 L1083.9,1195.3 L1062.8,1198.1 L1041.6,1197.6 L1020.9,1193.4 L1001.6,1185.0 L985.0,1171.9 Z" fill="url(#rC)"/><path d="M984.9,1172.1 L1001.6,1185.3 L1020.9,1193.7 L1041.6,1197.9 L1062.8,1198.3 L1083.9,1195.5 L1104.5,1190.0 L1124.2,1181.9 L1142.9,1171.7 L1160.2,1159.4 L1176.2,1145.4 L1190.4,1129.6 L1202.9,1112.4 L1213.3,1093.8 L1221.5,1074.2 L1227.3,1053.8 L1230.8,1032.9 L1231.9,1011.7 L1230.7,990.5 L1227.4,969.5 L1221.9,948.9 L1214.4,928.8 L1204.8,909.6 L1192.9,891.5 L1178.8,875.0 L1162.8,860.2 L1145.0,847.5 L1125.9,836.7 L1105.7,828.1 L1084.6,822.0 L1062.7,819.1 L1040.8,820.0 L1019.6,825.7 L1000.5,837.2 L1001.0,839.3 L1019.9,827.8 L1040.8,822.0 L1062.6,821.0 L1084.2,823.9 L1105.1,829.9 L1125.2,838.4 L1144.0,849.1 L1161.6,861.8 L1177.4,876.4 L1191.3,892.8 L1203.0,910.7 L1212.4,929.8 L1219.8,949.6 L1225.1,970.0 L1228.4,990.7 L1229.5,1011.7 L1228.4,1032.6 L1225.0,1053.3 L1219.2,1073.4 L1211.1,1092.8 L1200.9,1111.1 L1188.6,1128.1 L1174.5,1143.7 L1158.8,1157.6 L1141.7,1169.7 L1123.2,1179.8 L1103.8,1187.8 L1083.4,1193.3 L1062.6,1196.0 L1041.6,1195.6 L1021.2,1191.5 L1002.1,1183.3 L985.5,1170.4 Z" fill="url(#rD)"/><path d="M985.5,1170.6 L1002.0,1183.5 L1021.1,1191.7 L1041.6,1195.8 L1062.6,1196.3 L1083.5,1193.5 L1103.8,1188.0 L1123.3,1180.0 L1141.8,1169.9 L1159.0,1157.8 L1174.7,1143.9 L1188.8,1128.3 L1201.1,1111.3 L1211.4,1092.9 L1219.4,1073.5 L1225.2,1053.3 L1228.7,1032.6 L1229.8,1011.7 L1228.6,990.7 L1225.4,969.9 L1220.0,949.5 L1212.7,929.7 L1203.2,910.6 L1191.5,892.7 L1177.6,876.2 L1161.7,861.6 L1144.2,848.9 L1125.2,838.2 L1105.2,829.7 L1084.2,823.7 L1062.6,820.8 L1040.8,821.8 L1019.8,827.6 L1001.0,839.1 L1002.3,844.4 L1020.6,832.8 L1040.9,826.9 L1062.1,825.7 L1083.2,828.4 L1103.7,834.3 L1123.2,842.6 L1141.6,853.1 L1158.7,865.5 L1174.0,879.9 L1187.4,896.0 L1198.6,913.5 L1207.6,932.2 L1214.6,951.5 L1219.6,971.3 L1222.7,991.4 L1223.7,1011.7 L1222.6,1031.9 L1219.3,1052.0 L1213.7,1071.5 L1205.9,1090.3 L1196.0,1108.0 L1184.1,1124.5 L1170.5,1139.6 L1155.3,1153.1 L1138.7,1164.8 L1120.8,1174.7 L1101.9,1182.4 L1082.3,1187.7 L1062.1,1190.4 L1041.7,1190.0 L1021.9,1186.1 L1003.3,1178.4 L987.1,1166.3 Z" fill="url(#rE)"/><path d="M987.0,1166.5 L1003.2,1178.6 L1021.9,1186.4 L1041.7,1190.2 L1062.1,1190.6 L1082.3,1187.9 L1102.0,1182.6 L1120.9,1174.9 L1138.8,1165.1 L1155.5,1153.3 L1170.7,1139.8 L1184.3,1124.7 L1196.2,1108.1 L1206.1,1090.4 L1213.9,1071.6 L1219.5,1052.0 L1222.9,1032.0 L1224.0,1011.7 L1223.0,991.4 L1219.9,971.2 L1214.9,951.4 L1207.9,932.0 L1198.8,913.4 L1187.6,895.9 L1174.2,879.7 L1158.8,865.4 L1141.7,852.9 L1123.3,842.4 L1103.8,834.1 L1083.3,828.2 L1062.1,825.5 L1040.9,826.7 L1020.5,832.6 L1002.3,844.2 L1002.8,846.0 L1020.8,834.4 L1041.0,828.5 L1062.0,827.2 L1082.9,829.9 L1103.2,835.6 L1122.6,843.9 L1140.9,854.3 L1157.7,866.7 L1172.9,881.0 L1186.1,897.0 L1197.2,914.4 L1206.1,932.9 L1213.0,952.1 L1217.9,971.7 L1220.9,991.6 L1221.9,1011.7 L1220.8,1031.7 L1217.5,1051.6 L1211.9,1070.9 L1204.2,1089.4 L1194.4,1107.0 L1182.7,1123.4 L1169.2,1138.3 L1154.2,1151.7 L1137.7,1163.3 L1120.1,1173.0 L1101.4,1180.6 L1081.9,1185.9 L1061.9,1188.6 L1041.8,1188.2 L1022.1,1184.4 L1003.7,1176.8 L987.6,1165.0 Z" fill="url(#rF)"/>
<path d="M1556,1150 L1556,1165 C1560,1196 1580,1203 1607,1203 C1632,1203 1640,1192 1648,1186 C1656,1192 1668,1202 1692,1202 C1722,1202 1740,1190 1743,1160 L1743,1150 Z" fill="#1b1c1e"/><path d="M1574,1168 C1580,1186 1594,1190 1610,1190 C1626,1190 1636,1184 1642,1178" fill="none" stroke="#3c3d40" stroke-width="1.6"/><path d="M1656,1180 C1664,1187 1676,1190 1692,1190 C1710,1190 1722,1182 1727,1165" fill="none" stroke="#3c3d40" stroke-width="1.6"/><path d="M1560.5,850 C1562,826 1590,828.5 1604.5,828.5 C1626,828.5 1638,834 1646,839.5 C1654,834 1668,827.5 1689,827.5 C1716,827.5 1735,838 1736,866" fill="none" stroke="#1b1c1e" stroke-width="11" stroke-linejoin="round"/><path d="M1572,846 C1580,834 1592,832.5 1604.5,832.5 C1622,832.5 1634,840 1640,846" fill="none" stroke="#3a3b3e" stroke-width="1.5"/><path d="M1654,844 C1662,837 1674,832 1689,832 C1710,832 1727,842 1730,862" fill="none" stroke="#3a3b3e" stroke-width="1.5"/><path d="M1554.2,852 Q1554.2,846 1562,845 L1577.5,848 L1577.8,1170 L1554.2,1170 Z" fill="#1b1c1e"/><rect x="1723.5" y="860" width="19.5" height="310" fill="#1b1c1e"/><rect x="1559" y="860" width="3" height="300" fill="#2a2b2e"/><rect x="1737" y="870" width="2.5" height="290" fill="#2c2d30"/>
<g fill="#3a3a3a" stroke="none"><rect x="897.2" y="257" width="4.6" height="536"/><rect x="898" y="793.6" width="168" height="4.3"/><circle cx="898.6" cy="257.6" r="18"/><circle cx="898.8" cy="790.8" r="18"/><circle cx="1065.6" cy="790.2" r="18"/><rect x="1640.9" y="1223" width="4.6" height="260"/><path d="M1043,1484.4 L1640,1480.6 L1640,1484.8 L1043,1488.6Z"/><circle cx="1641.8" cy="1223.5" r="18"/><circle cx="1639.5" cy="1482.5" r="18"/><circle cx="1043.8" cy="1486.5" r="18"/></g>
</svg>

<div class="t h" id="t1" style="left:967.8px;top:193px;font-size:108.4px;transform:scaleX(0.924);">CHROME D-RING</div>
<div class="t s" id="t2" style="left:973.4px;top:321px;font-size:54.2px;transform:scaleX(0.9455);">TO ATTACH LEASH AND TAGS</div>
<div class="t h" id="t3" style="left:486.3px;top:1520.5px;font-size:108.4px;transform:scaleX(0.9135);">NON-SLIP METAL LOOP</div>
<div class="t s" id="t4" style="left:485.4px;top:1654px;font-size:54.2px;transform:scaleX(0.9425);">TO EASILY ADJUST SIZE</div>

</body></html>
